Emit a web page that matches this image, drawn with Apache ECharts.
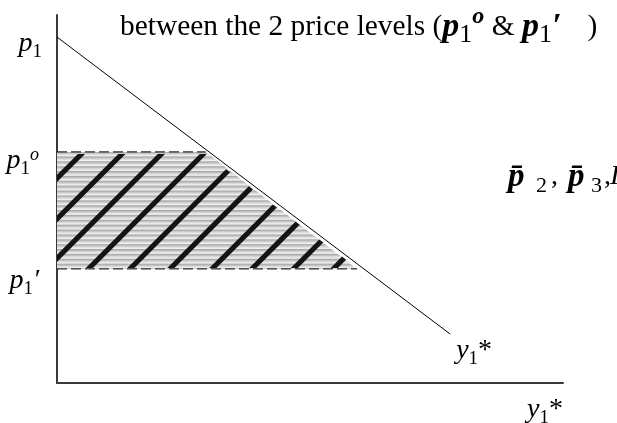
<!DOCTYPE html>
<html>
<head>
<meta charset="utf-8">
<script src="https://cdn.jsdelivr.net/npm/echarts@6/dist/echarts.min.js"></script>
<style>
  html, body { margin: 0; padding: 0; background: #fff; }
  #chart { width: 617px; height: 423px; }
</style>
</head>
<body>
<div id="chart"></div>
<script>
// Price levels on the p1 axis (axis units 0–100)
const priceIntercept = 94;    // p1 where demand meets the axis
const priceHigh = 62.8;       // p1°
const priceLow = 31;          // p1'

// Demand curve y1*(p1) as a straight line
const demandX = [0, 77.7];
const demandY = [94, 13.3];

// Consumer-surplus change between the two price levels
const shadeX = [0, 29.4, 59.3, 0];
const shadeY = [62.8, 62.8, 31, 31];

// Where each diagonal hatch crosses the lower price level
const hatchX = [-17.9, -9.9, -2.1, 6.2, 14.4, 22.3, 30.6, 38.5, 46.7, 54.6];

// Axis label positions
const yLabelValues = [priceLow, priceHigh, priceIntercept];
const xLabelValues = [100];

const FONT = '"Liberation Serif", "Times New Roman", serif';

// One rich-text token style: every token is top-aligned inside a line of height H,
// and its top padding sets where its glyphs sit (sub/superscripts).
function tok(size, pt, H, opt) {
  opt = opt || {};
  const s = {
    fontFamily: FONT, fontSize: size, color: '#000',
    fontStyle: opt.italic ? 'italic' : 'normal',
    fontWeight: opt.bold ? 'bold' : 'normal',
    lineHeight: H, verticalAlign: 'top', padding: [pt, 0, 0, 0]
  };
  if (opt.width) s.width = opt.width;
  return s;
}

// p-labels on the price axis (line height 60, centred on the tick)
const yRich = {
  a0: tok(28, 23, 60, { italic: true }),  b0: tok(19, 35.5, 60),
  a1: tok(28, 25, 60, { italic: true }),  b1: tok(19, 37.5, 60),  c1: tok(18, 24, 60, { italic: true }),
  a2: tok(28, 28, 60, { italic: true }),  b2: tok(19, 40.5, 60),  c2: tok(28, 28, 60, { italic: true }),
  g: tok(4, 0, 60, { width: 3 })
};

function yLabel(v) {
  if (v === priceIntercept) return '{a0|p}{b0|1}';
  if (v === priceHigh) return '{a1|p}{b1|1}{c1|o}{g| }';
  if (v === priceLow) return '{a2|p}{b2|1}{c2|\u2032}{g| }';
  return '';
}

// y1* under the quantity axis
const xRich = {
  m: tok(28, 6, 40, { italic: true }), s: tok(19, 18.5, 40), r: tok(28, 6, 40)
};
// y1* at the end of the demand curve
const endRich = {
  m: tok(28, 13, 40, { italic: true }), s: tok(19, 25.5, 40), r: tok(28, 13, 40)
};

// Convex polygon clipping (Sutherland–Hodgman)
function clipConvex(poly, clipPoly) {
  let out = poly;
  for (let i = 0; i < clipPoly.length && out.length; i++) {
    const a = clipPoly[i], b = clipPoly[(i + 1) % clipPoly.length];
    const side = p => (b[0] - a[0]) * (p[1] - a[1]) - (b[1] - a[1]) * (p[0] - a[0]);
    const inp = out;
    out = [];
    for (let j = 0; j < inp.length; j++) {
      const p = inp[j], q = inp[(j + 1) % inp.length];
      const sp = side(p), sq = side(q);
      if (sp >= 0) out.push(p);
      if ((sp >= 0) !== (sq >= 0)) {
        const t = sp / (sp - sq);
        out.push([p[0] + t * (q[0] - p[0]), p[1] + t * (q[1] - p[1])]);
      }
    }
  }
  return out;
}

function renderShade(params, api) {
  const pts = shadeX.map((x, i) => api.coord([x, shadeY[i]]));
  const ys = pts.map(p => p[1]);
  const top = Math.min.apply(null, ys), bot = Math.max.apply(null, ys);

  // horizontal grey banding
  const n = Math.round((bot - top) / 4.9);
  const stops = [];
  for (let i = 0; i < n; i++) {
    const o = i / n, w = 1 / n;
    stops.push({ offset: o, color: '#a6a6a6' });
    stops.push({ offset: o + w * 0.45, color: '#d6d6d6' });
    stops.push({ offset: o + w * 0.8, color: '#f2f2f2' });
    stops.push({ offset: o + w * 0.999, color: '#b4b4b4' });
  }
  const children = [{
    type: 'polygon',
    shape: { points: pts },
    style: { fill: { type: 'linear', x: 0, y: top, x2: 0, y2: bot, global: true, colorStops: stops } }
  }];

  // thick 45° hatching inside the band
  const clip = pts.map(p => [p[0], p[1] === top ? top + 2 : p[1] - 1]);
  const hw = 3.6, L = 300;
  hatchX.forEach(hx => {
    const b = api.coord([hx, priceLow]);
    const y0 = b[1] + 6, x0 = b[0] - 6;
    const quad = [[x0 - hw, y0], [x0 + hw, y0], [x0 + hw + L, y0 - L], [x0 - hw + L, y0 - L]];
    const c = clipConvex(quad, clip);
    if (c.length >= 3) {
      children.push({ type: 'polygon', shape: { points: c }, style: { fill: '#141414' } });
    }
  });
  return { type: 'group', children: children };
}

const chart = echarts.init(document.getElementById('chart'), null, { renderer: 'canvas' });

const axisLineStyle = { color: '#3a3a3a', width: 2 };

chart.setOption({
  animation: false,
  backgroundColor: '#fff',
  grid: { left: 57, top: 15, width: 506, height: 368, outerBoundsMode: 'none' },
  xAxis: {
    type: 'value', min: 0, max: 100,
    axisLine: { show: true, onZero: false, lineStyle: axisLineStyle },
    axisTick: { show: false },
    splitLine: { show: false },
    axisLabel: {
      customValues: xLabelValues,
      formatter: () => '{m|y}{s|1}{r|*}',
      align: 'right', verticalAlign: 'top', margin: 7,
      rich: xRich
    }
  },
  yAxis: {
    type: 'value', min: 0, max: 100,
    axisLine: { show: true, onZero: false, lineStyle: axisLineStyle },
    axisTick: { show: false },
    splitLine: { show: false },
    axisLabel: {
      customValues: yLabelValues,
      formatter: yLabel,
      margin: 15,
      rich: yRich
    }
  },
  series: [
    {
      type: 'custom', silent: true, z: 1,
      renderItem: renderShade,
      data: [[0, 0]]
    },
    {
      type: 'line', silent: true, z: 3,
      data: demandX.map((x, i) => [x, demandY[i]]),
      showSymbol: false,
      lineStyle: { color: '#000', width: 1 },
      endLabel: {
        show: true, distance: 4, offset: [2, 10],
        formatter: () => '{m|y}{s|1}{r|*}',
        rich: endRich
      }
    },
    {
      type: 'line', silent: true, z: 2,
      data: [[0, priceHigh], [shadeX[1], priceHigh]],
      showSymbol: false,
      lineStyle: { color: '#000', width: 1, type: [10, 4] }
    },
    {
      type: 'line', silent: true, z: 2,
      data: [[0, priceLow], [shadeX[2], priceLow]],
      showSymbol: false,
      lineStyle: { color: '#000', width: 1, type: [10, 4] }
    }
  ],
  graphic: [
    {
      type: 'text', left: 120, top: 0, silent: true,
      style: {
        text: '{r|between the 2 price levels (}{bp|p}{s|1}{u|o}{r| & }{bp|p}{s|1}{bp|\u2032}{g| }{r|)}',
        rich: {
          r: tok(29.4, 12.3, 50),
          bp: tok(34, 10, 50, { italic: true, bold: true }),
          s: tok(26, 22, 50),
          u: tok(24, 5, 50, { italic: true, bold: true }),
          g: tok(4, 0, 50, { width: 26 })
        }
      }
    },
    {
      type: 'text', left: 508, top: 140, silent: true,
      style: {
        text: '{bp|p\u0304}{s|2}{c|,}{bq|p\u0304}{t|3}{d|,}{ri|I}',
        rich: {
          bp: tok(33, 21, 60, { italic: true, bold: true, width: 28 }),
          bq: tok(33, 21, 60, { italic: true, bold: true, width: 23 }),
          s: tok(22, 35, 60, { width: 15 }),
          t: tok(22, 35, 60, { width: 13 }),
          c: tok(28, 23, 60, { width: 17 }),
          d: tok(28, 23, 60, { width: 6 }),
          ri: tok(28, 23, 60, { italic: true })
        }
      }
    }
  ]
});
</script>
</body>
</html>
